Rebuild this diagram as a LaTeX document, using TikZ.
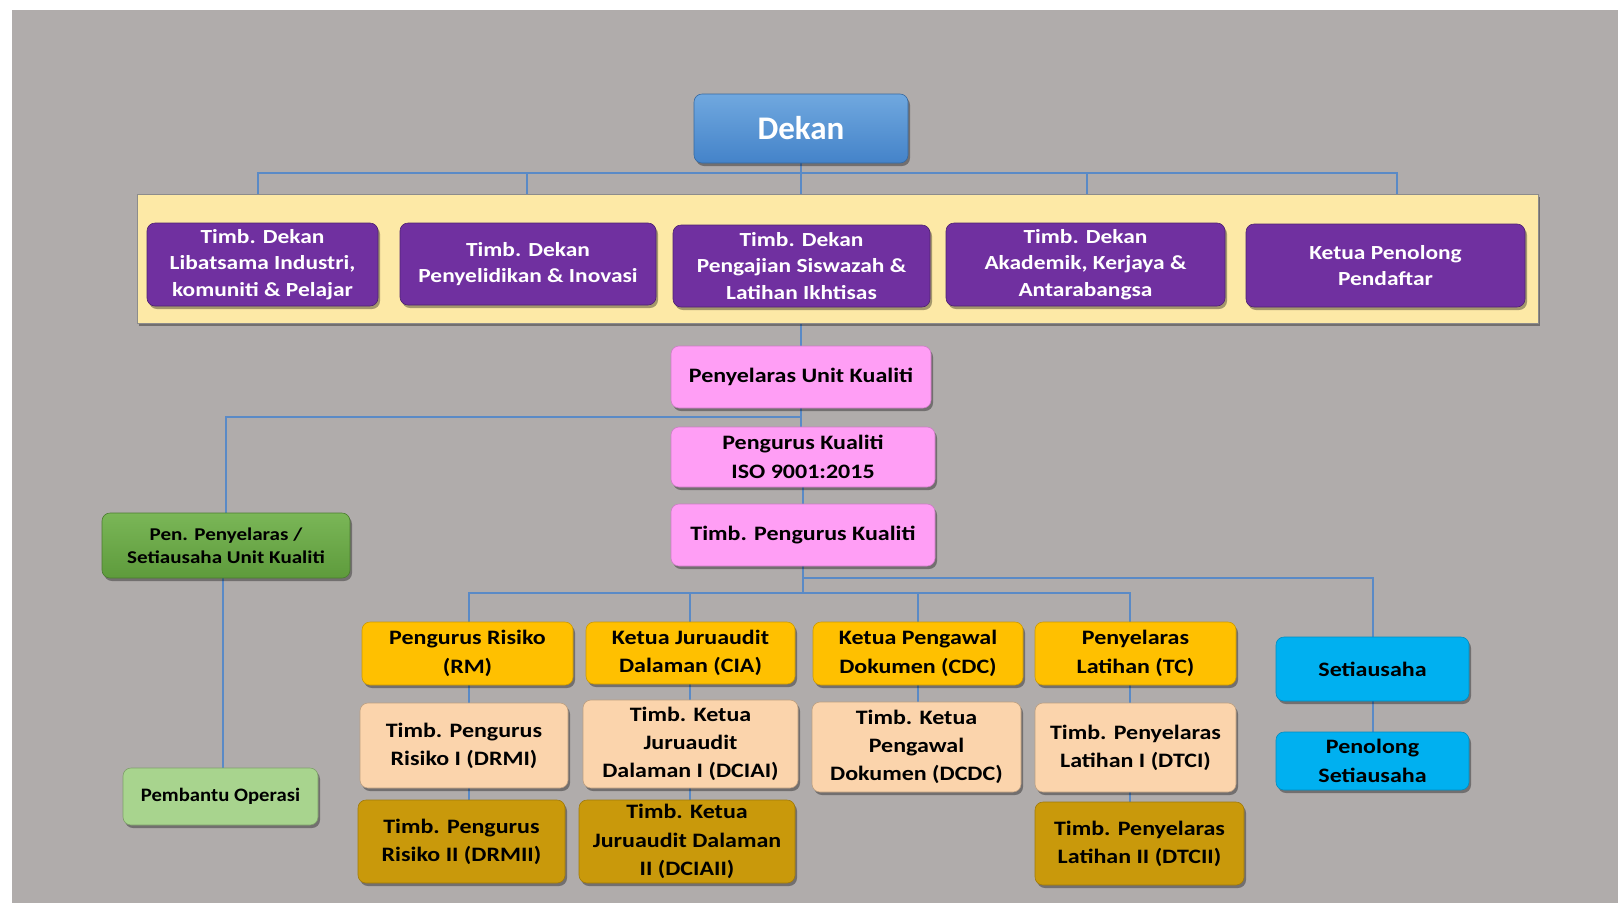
\documentclass[tikz,border=0pt]{standalone}
\usepackage{fontspec}
\setmainfont{Carlito}
\newfontfamily\wide{Carlito}[FakeStretch=1.17]
\newfontfamily\semiwide{Carlito}[FakeStretch=1.09]
\usetikzlibrary{shadows,backgrounds}
\definecolor{bggray}{HTML}{B0ACAB}
\definecolor{conncol}{HTML}{5A8AC6}
\definecolor{bandcol}{HTML}{FDE9A6}
\definecolor{purp}{HTML}{7030A0}
\definecolor{pinkc}{HTML}{FF9EF5}
\definecolor{greentop}{HTML}{7AB657}
\definecolor{greenbot}{HTML}{5E9B3C}
\definecolor{lgreen}{HTML}{A8D48E}
\definecolor{orangec}{HTML}{FFC000}
\definecolor{peach}{HTML}{FBD4AC}
\definecolor{goldc}{HTML}{C9990B}
\definecolor{cyanc}{HTML}{00B0F0}
\definecolor{dektop}{HTML}{70A8DF}
\definecolor{dekbot}{HTML}{4483C9}
\begin{document}
\begin{tikzpicture}[x=1pt,y=-1pt,
  wh/.style 2 args={minimum width=#1pt, minimum height=#2pt},
  box/.style={rounded corners=8pt, inner sep=0pt, align=center,
    drop shadow={shadow xshift=2pt, shadow yshift=-3pt, opacity=0.35, fill=black}},
  fs/.style 2 args={font=\wide\fontsize{#1}{#2}\selectfont\bfseries},
  dekanbox/.style={box, top color=dektop, bottom color=dekbot, draw=dekbot!80!black, line width=0.6pt, text=white, font=\fontsize{33}{38}\selectfont\bfseries},
  bandbox/.style={inner sep=0pt, fill=bandcol, draw=black!45, line width=0.8pt,
    drop shadow={shadow xshift=2pt, shadow yshift=-3pt, opacity=0.35, fill=black}},
  purpbox/.style={box, fill=purp, draw=purp!70!black, line width=0.6pt, text=white, fs={20}{26.7}},
  pinkbox/.style={box, fill=pinkc, draw=pinkc!80!black, line width=0.6pt, text=black, fs={20.5}{28.3}},
  grbox/.style={box, top color=greentop, bottom color=greenbot, draw=greenbot!80!black, line width=0.6pt, text=black, fs={18}{23.3}},
  lgbox/.style={box, fill=lgreen, draw=lgreen!75!black, line width=0.6pt, text=black, font=\semiwide\fontsize{19}{24}\selectfont\bfseries},
  orbox/.style={box, fill=orangec, draw=orangec!80!black, line width=0.6pt, text=black, fs={20.5}{28.5}},
  pebox/.style={box, fill=peach, draw=peach!75!black, line width=0.6pt, text=black, fs={20.5}{28.3}},
  gobox/.style={box, fill=goldc, draw=goldc!80!black, line width=0.6pt, text=black, fs={20.5}{28.3}},
  cybox/.style={box, fill=cyanc, draw=cyanc!80!black, line width=0.6pt, text=black, fs={20.5}{28.3}},
  conn/.style={draw=conncol, line width=2pt}
]
\useasboundingbox (0,0) rectangle (1618,903);
\begin{pgfonlayer}{background}
\fill[white] (0,0) rectangle (1618,903);
\fill[bggray] (12,10) rectangle (1618,903);
\end{pgfonlayer}

% top
\node[dekanbox, wh={214}{69}] (dekan) at (801,128.5) {Dekan};
\node[bandbox, wh={1401}{129}] (band) at (837.5,258.5) {};
\node[purpbox, wh={231}{83}] (p1) at (262.5,264.5) {Timb. Dekan\\Libatsama Industri,\\komuniti \& Pelajar};
\node[purpbox, wh={256}{82}] (p2) at (528,264) {Timb. Dekan\\Penyelidikan \& Inovasi};
\node[purpbox, wh={257}{82}] (p3) at (801.5,266) {Timb. Dekan\\Pengajian Siswazah \&\\Latihan Ikhtisas};
\node[purpbox, wh={279}{83}] (p4) at (1085.5,264.5) {Timb. Dekan\\Akademik, Kerjaya \&\\Antarabangsa};
\node[purpbox, wh={279}{83}] (p5) at (1385.5,265.5) {Ketua Penolong\\Pendaftar};

% quality unit
\node[pinkbox, wh={260}{62}] (puk) at (801,377) {Penyelaras Unit Kualiti};
\node[pinkbox, wh={264}{60}] (pk) at (803,457) {Pengurus Kualiti\\ISO 9001:2015};
\node[pinkbox, wh={264}{62}] (tpk) at (803,535) {Timb. Pengurus Kualiti};

\node[grbox, wh={248}{65}] (green) at (226,545.5) {Pen. Penyelaras /\\Setiausaha Unit Kualiti};
\node[lgbox, wh={195}{57}] (pem) at (220.5,796.5) {Pembantu Operasi};

% row 1
\node[orbox, wh={211}{63}] (rm) at (467.5,653.5) {Pengurus Risiko\\(RM)};
\node[orbox, wh={209}{62}] (cia) at (690.5,653) {Ketua Juruaudit\\Dalaman (CIA)};
\node[orbox, wh={210}{63}] (cdc) at (918,653.5) {Ketua Pengawal\\Dokumen (CDC)};
\node[orbox, wh={201}{63}] (tc) at (1135.5,653.5) {Penyelaras\\Latihan (TC)};
% row 2
\node[pebox, wh={208}{85}] (drmi) at (464,745.5) {Timb. Pengurus\\Risiko I (DRMI)};
\node[pebox, wh={215}{88}] (dciai) at (690.5,744) {Timb. Ketua\\Juruaudit\\Dalaman I (DCIAI)};
\node[pebox, wh={209}{90}] (dcdc) at (916.5,747) {Timb. Ketua\\Pengawal\\Dokumen (DCDC)};
\node[pebox, wh={201}{89}] (dtci) at (1135.5,747.5) {Timb. Penyelaras\\Latihan I (DTCI)};
% row 3
\node[gobox, wh={207}{83}] (drmii) at (461.5,841.5) {Timb. Pengurus\\Risiko II (DRMII)};
\node[gobox, wh={216}{83}] (dciaii) at (687,841.5) {Timb. Ketua\\Juruaudit Dalaman\\II (DCIAII)};
\node[gobox, wh={209}{83}] (dtcii) at (1139.5,843.5) {Timb. Penyelaras\\Latihan II (DTCII)};
% secretary
\node[cybox, wh={193}{64}] (seti) at (1372.5,669) {Setiausaha};
\node[cybox, wh={193}{58}] (pseti) at (1372.5,761) {Penolong\\Setiausaha};

% connectors
\coordinate (busy) at (0,173);
\coordinate (b1) at (258,194);
\coordinate (b2) at (527,194);
\coordinate (b4) at (1087,194);
\coordinate (b5) at (1397,194);
\coordinate (lj) at (801,417);
\coordinate (upy) at (0,578);
\coordinate (lowy) at (0,593);
\coordinate (rmx) at (469,0);
\coordinate (ciax) at (690,0);
\coordinate (cdcx) at (918,0);
\coordinate (tcx) at (1130,0);
\coordinate (pemx) at (223,0);
\begin{pgfonlayer}{background}
\draw[conn] (dekan.south) -- (dekan.south |- band.north);
\draw[conn] (b1) -- (b1 |- busy) -- (b5 |- busy) -- (b5);
\draw[conn] (b2) -- (b2 |- busy);
\draw[conn] (b4) -- (b4 |- busy);
\draw[conn] (puk.north |- band.south) -- (puk.north);
\draw[conn] (puk.south) -- (puk.south |- pk.north);
\draw[conn] (lj) -| (green.north);
\draw[conn] (pk.south) -- (pk.south |- tpk.north);
\draw[conn] (tpk.south) -- (tpk.south |- lowy);
\draw[conn] (tpk.south |- upy) -| (seti.north);
\draw[conn] (rmx |- rm.north) -- (rmx |- lowy) -- (tcx |- lowy) -- (tcx |- tc.north);
\draw[conn] (ciax |- lowy) -- (ciax |- cia.north);
\draw[conn] (cdcx |- lowy) -- (cdcx |- cdc.north);
\draw[conn] (rmx |- rm.south) -- (rmx |- drmi.north);
\draw[conn] (rmx |- drmi.south) -- (rmx |- drmii.north);
\draw[conn] (ciax |- cia.south) -- (ciax |- dciai.north);
\draw[conn] (ciax |- dciai.south) -- (ciax |- dciaii.north);
\draw[conn] (cdcx |- cdc.south) -- (cdcx |- dcdc.north);
\draw[conn] (tcx |- tc.south) -- (tcx |- dtci.north);
\draw[conn] (tcx |- dtci.south) -- (tcx |- dtcii.north);
\draw[conn] (seti.south) -- (pseti.north);
\draw[conn] (pemx |- green.south) -- (pemx |- pem.north);
\end{pgfonlayer}
\end{tikzpicture}
\end{document}
